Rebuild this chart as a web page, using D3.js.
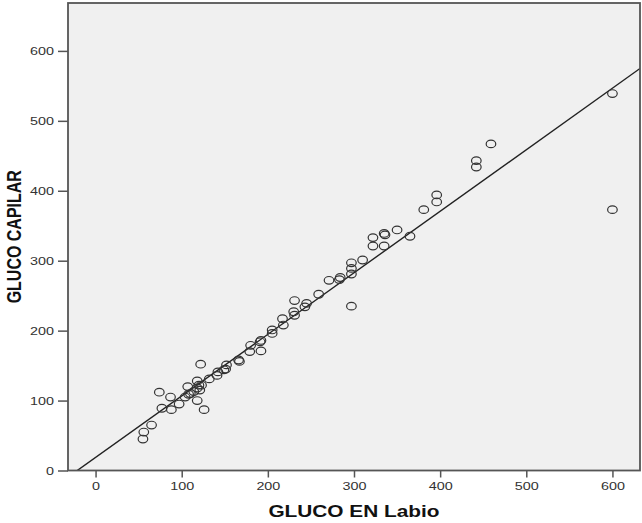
<!DOCTYPE html>
<html>
<head>
<meta charset="utf-8">
<script src="https://cdn.jsdelivr.net/npm/d3@7"></script>
<style>
  body { margin: 0; background: #fff; }
  svg { display: block; font-family: "Liberation Sans", Arial, sans-serif; }
</style>
</head>
<body>
<svg id="chart" width="642" height="523"></svg>
<script>
// values
const glucoLabio = [55, 56, 65, 74, 77, 87, 88, 97, 104, 107, 108, 110, 114, 118, 118, 118, 120, 121, 122, 123,
  126, 132, 141, 142, 149, 151, 152, 166, 167, 179, 180, 191, 192, 192, 205, 205, 217, 218, 230, 231,
  231, 243, 245, 259, 271, 283, 284, 297, 297, 297, 297, 310, 322, 322, 335, 336, 335, 350, 365, 381,
  396, 396, 442, 442, 459, 600, 600];
const glucoCapilar = [45, 55, 65, 112, 89, 105, 87, 95, 105, 120, 109, 110, 113, 128, 118, 100, 122, 115, 152, 122,
  87, 131, 136, 141, 144, 145, 151, 158, 156, 170, 179, 184, 186, 171, 196, 201, 217, 208, 227, 222,
  243, 234, 239, 252, 272, 273, 276, 281, 289, 297, 235, 301, 333, 321, 339, 337, 321, 344, 335, 373,
  394, 384, 443, 434, 467, 539, 373];
const xTicks = [0, 100, 200, 300, 400, 500, 600];
const yTicks = [0, 100, 200, 300, 400, 500, 600];

// fit line as drawn in the picture
const intercept = 18.7;
const slope = 0.88;

const svg = d3.select("#chart");
const plot = { left: 68, right: 640, top: 3, bottom: 470.5 };

// the original picture is a bit wider than tall, text looks stretched sideways
const stretch = 1.27;

const x = d3.scaleLinear().domain([-32, 632]).range([plot.left, plot.right]);
const y = d3.scaleLinear().domain([0, 668.5]).range([plot.bottom, plot.top]);

// squash text sideways, keeping its anchor point
function widen(sel, s) {
    sel.each(function () {
        const t = d3.select(this);
        const ox = +t.attr("x") || 0;
        t.attr("x", ox / s).attr("transform", `scale(${s},1)`);
    });
}

// background of the plot area
svg.append("rect")
    .attr("x", plot.left)
    .attr("y", plot.top)
    .attr("width", plot.right - plot.left)
    .attr("height", plot.bottom - plot.top)
    .attr("fill", "#f0f0f0");

// clip so the line stops at the frame
svg.append("clipPath").attr("id", "clip")
    .append("rect")
    .attr("x", plot.left)
    .attr("y", plot.top)
    .attr("width", plot.right - plot.left)
    .attr("height", plot.bottom - plot.top);

// axes
const xAxis = svg.append("g")
    .attr("transform", `translate(0, ${plot.bottom})`)
    .call(d3.axisBottom(x).tickValues(xTicks).tickSize(7).tickSizeOuter(0).tickPadding(4));

const yAxis = svg.append("g")
    .attr("transform", `translate(${plot.left}, 0)`)
    .call(d3.axisLeft(y).tickValues(yTicks).tickSize(10).tickSizeOuter(0).tickPadding(4));

[xAxis, yAxis].forEach(g => {
    g.select(".domain").remove();
    g.selectAll("line").attr("stroke", "#555").attr("stroke-width", 1.5);
    g.selectAll("text")
        .attr("font-family", "Liberation Sans, Arial, sans-serif")
        .attr("font-size", "11.5px")
        .attr("fill", "#333")
        .call(widen, 1.25);
});

// fit line
const lineX = [x.domain()[0], x.domain()[1]];
svg.append("g").attr("clip-path", "url(#clip)")
    .append("line")
    .attr("x1", x(lineX[0]))
    .attr("y1", y(intercept + slope * lineX[0]))
    .attr("x2", x(lineX[1]))
    .attr("y2", y(intercept + slope * lineX[1]))
    .attr("stroke", "#222")
    .attr("stroke-width", 1.4);

// points
svg.append("g").selectAll("ellipse")
    .data(glucoLabio.map((v, i) => ({ lab: v, cap: glucoCapilar[i] })))
    .join("ellipse")
    .attr("cx", d => x(d.lab))
    .attr("cy", d => y(d.cap))
    .attr("rx", 4.8)
    .attr("ry", 3.8)
    .attr("fill", "none")
    .attr("stroke", "#333")
    .attr("stroke-width", 1.2);

// frame
svg.append("rect")
    .attr("x", plot.left)
    .attr("y", plot.top)
    .attr("width", plot.right - plot.left)
    .attr("height", plot.bottom - plot.top)
    .attr("fill", "none")
    .attr("stroke", "#555")
    .attr("stroke-width", 1.8);

// axis titles
svg.append("text")
    .attr("x", (plot.left + plot.right) / 2)
    .attr("y", 517)
    .attr("text-anchor", "middle")
    .attr("font-weight", "bold")
    .attr("font-size", "16.4px")
    .attr("fill", "#111")
    .text("GLUCO EN Labio")
    .call(widen, stretch);

svg.append("text")
    .attr("transform", `translate(20.5, ${(plot.top + plot.bottom) / 2}) scale(${stretch},1) rotate(-90)`)
    .attr("text-anchor", "middle")
    .attr("font-weight", "bold")
    .attr("font-size", "16px")
    .attr("fill", "#111")
    .text("GLUCO CAPILAR");
</script>
</body>
</html>
